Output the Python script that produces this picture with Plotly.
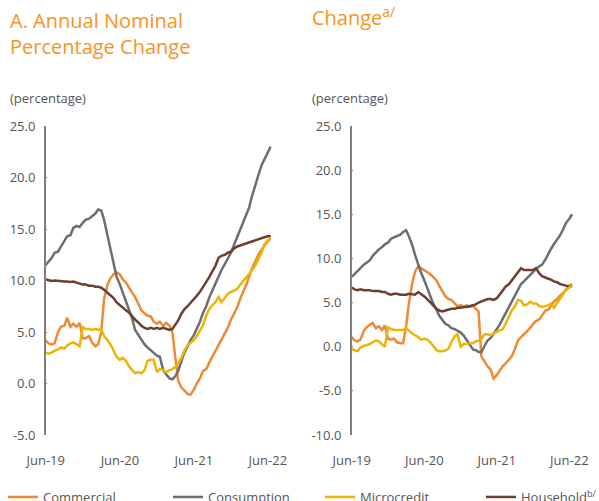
import plotly.graph_objects as go
import pandas as pd

# ---------------- data (half-monthly observations, Jun-19 .. Jun-22) ----------------
dates = pd.date_range("2019-06-01", periods=74, freq="SMS")

# Panel A: annual nominal percentage change
nom_commercial = [4.2, 3.9, 3.8, 3.9, 5.0, 5.5, 5.6, 6.4, 5.5, 5.8,
                  5.5, 5.9, 4.4, 4.4, 4.6, 4.0, 3.6, 3.8, 5.0, 8.2,
                  9.6, 10.2, 10.6, 10.8, 10.6, 10.1, 9.8, 9.3, 8.8, 8.4,
                  7.6, 7.1, 6.8, 6.6, 6.5, 6.0, 5.8, 6.0, 5.6, 5.9,
                  5.6, 5.0, 2.6, 0.3, -0.4, -0.7, -1.0, -1.1, -0.6, 0.0,
                  0.5, 1.2, 1.4, 2.0, 2.6, 3.2, 3.8, 4.3, 4.8, 5.4,
                  6.2, 6.8, 7.4, 8.2, 8.9, 9.6, 10.4, 11.2, 11.9, 12.5,
                  13.0, 13.4, 13.8, 14.1]
nom_consumption = [11.5, 11.8, 12.2, 12.7, 12.8, 13.3, 13.8, 14.3, 14.4, 15.1,
                   15.3, 15.2, 15.6, 15.9, 16.0, 16.2, 16.5, 16.9, 16.8, 15.9,
                   14.3, 13.1, 11.6, 10.4, 9.6, 8.8, 8.1, 7.3, 6.3, 5.2,
                   4.7, 4.2, 3.8, 3.5, 3.2, 2.9, 2.7, 2.6, 1.3, 0.9,
                   0.5, 0.4, 0.7, 1.2, 2.3, 3.0, 3.6, 4.2, 4.7, 5.3,
                   6.0, 6.8, 7.5, 8.3, 9.0, 9.6, 10.4, 11.0, 11.6, 12.1,
                   12.7, 13.4, 14.2, 14.9, 15.7, 16.4, 17.1, 18.2, 19.4, 20.2,
                   21.2, 21.8, 22.4, 23.0]
nom_microcredit = [3.0, 2.9, 3.0, 3.2, 3.3, 3.5, 3.4, 3.7, 3.9, 4.0,
                   3.8, 3.6, 5.5, 5.3, 5.3, 5.2, 5.3, 5.2, 5.3, 4.6,
                   4.2, 3.8, 3.2, 2.6, 2.3, 2.5, 2.2, 1.7, 1.3, 1.0,
                   1.1, 1.0, 1.3, 2.2, 2.3, 2.3, 1.1, 1.4, 1.3, 1.1,
                   1.3, 1.4, 1.6, 1.9, 2.5, 3.2, 3.7, 3.9, 4.2, 4.6,
                   5.2, 5.6, 6.6, 7.2, 7.6, 7.9, 8.4, 7.9, 8.3, 8.7,
                   8.9, 9.0, 9.2, 9.6, 10.0, 10.3, 10.6, 11.0, 11.5, 12.0,
                   12.7, 13.5, 13.9, 14.1]
nom_household = [10.1, 10.0, 9.95, 10.0, 9.95, 9.9, 9.9, 9.9, 9.85, 9.9,
                 9.8, 9.7, 9.6, 9.6, 9.5, 9.5, 9.4, 9.4, 9.3, 9.1,
                 8.8, 8.5, 8.3, 7.9, 7.6, 7.3, 7.1, 6.9, 6.5, 6.2,
                 5.9, 5.6, 5.4, 5.3, 5.4, 5.3, 5.4, 5.3, 5.4, 5.3,
                 5.2, 5.3, 5.7, 6.1, 6.8, 7.2, 7.5, 7.8, 8.1, 8.5,
                 8.9, 9.3, 9.8, 10.3, 10.9, 11.4, 12.2, 12.4, 12.5, 12.7,
                 12.8, 13.1, 13.3, 13.4, 13.5, 13.6, 13.7, 13.8, 13.9, 14.0,
                 14.1, 14.2, 14.3, 14.3]

# Panel B: annual real percentage change
real_commercial = [1.1, 0.7, 0.6, 0.8, 1.8, 2.2, 2.5, 2.7, 2.1, 2.3,
                   1.9, 2.4, 0.9, 0.8, 0.9, 0.5, 0.4, 0.4, 2.3, 4.9,
                   7.2, 8.5, 9.1, 8.9, 8.7, 8.4, 8.2, 7.9, 7.5, 6.9,
                   6.3, 5.7, 5.4, 5.3, 4.9, 4.6, 4.7, 4.5, 4.7, 4.5,
                   4.6, 4.3, 4.0, -1.1, -1.7, -2.2, -2.6, -3.6, -3.2, -2.7,
                   -2.2, -1.9, -1.5, -1.1, -0.2, 0.7, 1.1, 1.4, 1.7, 2.1,
                   2.6, 2.9, 3.1, 3.5, 4.1, 4.2, 4.7, 5.1, 5.4, 5.8,
                   6.1, 6.5, 6.9, 7.1]
real_consumption = [7.9, 8.2, 8.5, 8.9, 9.3, 9.5, 9.8, 10.3, 10.7, 11.0,
                    11.3, 11.6, 11.8, 12.2, 12.4, 12.5, 12.7, 13.0, 13.2, 12.5,
                    11.5, 10.4, 9.3, 8.4, 7.5, 6.7, 5.8, 4.9, 4.2, 3.5,
                    3.0, 2.6, 2.4, 2.1, 2.0, 1.8, 1.6, 1.3, 0.7, 0.2,
                    -0.3, -0.4, -0.6, -0.6, 0.1, 0.7, 1.0, 1.4, 2.0, 2.5,
                    3.2, 3.8, 4.5, 5.2, 5.9, 6.5, 7.1, 7.4, 7.8, 8.1,
                    8.5, 8.8, 9.1, 9.3, 9.9, 10.6, 11.1, 11.6, 12.1, 12.6,
                    13.3, 14.0, 14.5, 15.0]
real_microcredit = [-0.2, -0.4, -0.5, -0.1, 0.1, 0.2, 0.3, 0.5, 0.7, 0.6,
                    0.3, 0.0, 2.2, 2.0, 1.9, 1.9, 1.9, 1.9, 2.1, 1.8,
                    1.5, 1.3, 1.1, 0.8, 0.9, 0.8, 0.5, 0.1, -0.4, -0.5,
                    -0.5, -0.4, -0.2, 0.5, 1.2, 1.4, 0.0, 0.3, 0.3, 0.4,
                    0.4, 0.6, 0.7, 0.9, 1.4, 1.4, 1.3, 1.5, 1.7, 1.8,
                    2.0, 2.6, 3.4, 4.1, 4.6, 5.3, 5.2, 4.7, 4.8, 5.1,
                    4.9, 4.9, 4.6, 4.5, 4.6, 4.7, 4.9, 4.4, 5.0, 5.4,
                    6.0, 6.4, 6.7, 6.9]
real_household = [6.7, 6.5, 6.4, 6.5, 6.4, 6.4, 6.4, 6.3, 6.3, 6.3,
                  6.2, 6.2, 6.0, 5.9, 6.0, 6.0, 5.9, 5.9, 5.9, 6.0,
                  5.9, 5.9, 6.2, 6.0, 5.7, 5.4, 5.0, 4.6, 4.3, 4.1,
                  4.0, 4.1, 4.2, 4.3, 4.3, 4.4, 4.4, 4.5, 4.5, 4.6,
                  4.7, 4.8, 5.0, 5.1, 5.3, 5.4, 5.4, 5.3, 5.5, 5.9,
                  6.3, 6.8, 7.1, 7.5, 8.0, 8.5, 8.9, 8.7, 8.7, 8.7,
                  8.7, 8.9, 8.3, 8.0, 7.8, 7.7, 7.6, 7.4, 7.3, 7.1,
                  7.0, 6.9, 6.8, 6.9]

series_names = ["Commercial", "Consumption", "Microcredit", "Household<sup>b/</sup>"]
series_colors = ["#EE8A35", "#6D6E71", "#EDB408", "#6B4030"]

tick_dates = ["2019-06-01", "2019-12-01", "2020-06-01", "2020-12-01",
              "2021-06-01", "2021-12-01", "2022-06-01"]
label_dates = ["2019-06-01", "2020-06-01", "2021-06-01", "2022-06-01"]
label_text = ["Jun-19", "Jun-20", "Jun-21", "Jun-22"]

yA_vals = [-5, 0, 5, 10, 15, 20, 25]
yA_text = ["-5.0", "0.0", "5.0", "10.0", "15.0", "20.0", "25.0"]
yB_vals = [-10, -5, 0, 5, 10, 15, 20, 25]
yB_text = ["-10.0", "-5.0", "0.0", "5.0", "10.0", "15.0", "20.0", "25.0"]

# ---------------- figure ----------------
W, H = 599, 501
FONT = "Open Sans"
TXT = "#555555"
AX = "#7F7F7F"
ORANGE = "#F7941D"


def fx(px):
    return px / W


def fy(py):
    return 1 - py / H


fig = go.Figure()

nominal = [nom_commercial, nom_consumption, nom_microcredit, nom_household]
real = [real_commercial, real_consumption, real_microcredit, real_household]
legend_ids = ["legend", "legend2", "legend3", "legend4"]
draw_order = [0, 1, 3, 2]

for i in draw_order:
    fig.add_trace(go.Scatter(
        x=dates, y=nominal[i], mode="lines", name=series_names[i],
        line=dict(color=series_colors[i], width=2.5),
        xaxis="x", yaxis="y", legend=legend_ids[i], showlegend=True,
        hoverinfo="skip"))
for i in draw_order:
    fig.add_trace(go.Scatter(
        x=dates, y=real[i], mode="lines", name=series_names[i],
        line=dict(color=series_colors[i], width=2.5),
        xaxis="x2", yaxis="y2", showlegend=False, hoverinfo="skip"))

xrange = ["2019-06-01", "2022-06-20"]
ydom = [fy(435), fy(126)]

label_axis = dict(range=xrange, type="date", showline=False, showgrid=False,
                  zeroline=False, ticks="", tickvals=label_dates,
                  ticktext=label_text, ticklabelstandoff=16, automargin=False,
                  tickfont=dict(family=FONT, size=13, color=TXT))
zero_axis = dict(range=xrange, type="date", showline=True, linecolor=AX,
                 linewidth=1.5, showgrid=False, zeroline=False,
                 ticks="inside", ticklen=4, tickwidth=1.2, tickcolor=AX,
                 tickvals=tick_dates, showticklabels=False, anchor="free",
                 automargin=False)
y_common = dict(showline=True, linecolor=AX, linewidth=1.5, showgrid=False,
                zeroline=False, ticks="inside", ticklen=2, tickcolor=AX,
                ticklabelstandoff=6, automargin=False,
                tickfont=dict(family=FONT, size=13, color=TXT), domain=ydom)

fig.update_layout(
    width=W, height=H,
    margin=dict(l=0, r=0, t=0, b=0, autoexpand=False),
    paper_bgcolor="white", plot_bgcolor="white",
    font=dict(family=FONT, color=TXT),
    xaxis=dict(domain=[fx(45.7), fx(271.7)], anchor="y", **label_axis),
    xaxis2=dict(domain=[fx(351.7), fx(573.1)], anchor="y2", **label_axis),
    xaxis3=dict(overlaying="x", position=fy(383.3), **zero_axis),
    xaxis4=dict(overlaying="x2", position=fy(346.7), **zero_axis),
    yaxis=dict(range=[-5, 25], anchor="x", tickvals=yA_vals, ticktext=yA_text, **y_common),
    yaxis2=dict(range=[-10, 25], anchor="x2", tickvals=yB_vals, ticktext=yB_text, **y_common),
    showlegend=True,
)

legend_text_start = [43, 208, 360, 521]
for lid, tx in zip(legend_ids, legend_text_start):
    fig.update_layout({lid: dict(x=fx(tx - 40), y=fy(482), xanchor="left", yanchor="top",
                                 orientation="h", bgcolor="rgba(0,0,0,0)", borderwidth=0,
                                 font=dict(family=FONT, size=13, color=TXT))})

fig.add_annotation(text="A. Annual Nominal<br>Percentage Change", xref="paper", yref="paper",
                   x=fx(8), y=fy(5), xanchor="left", yanchor="top", align="left",
                   showarrow=False, font=dict(family=FONT, size=20, color=ORANGE))
fig.add_annotation(text="Change<sup>a/</sup>", xref="paper", yref="paper",
                   x=fx(310), y=fy(0), xanchor="left", yanchor="top", align="left",
                   showarrow=False, font=dict(family=FONT, size=20, color=ORANGE))
fig.add_annotation(text="(percentage)", xref="paper", yref="paper",
                   x=fx(8), y=fy(98), xanchor="left", yanchor="middle",
                   showarrow=False, font=dict(family=FONT, size=13, color=TXT))
fig.add_annotation(text="(percentage)", xref="paper", yref="paper",
                   x=fx(310), y=fy(98), xanchor="left", yanchor="middle",
                   showarrow=False, font=dict(family=FONT, size=13, color=TXT))

fig.write_html("out.html", config={"displayModeBar": False},
               post_script="document.body.style.margin='0';document.body.style.overflow='hidden';")
